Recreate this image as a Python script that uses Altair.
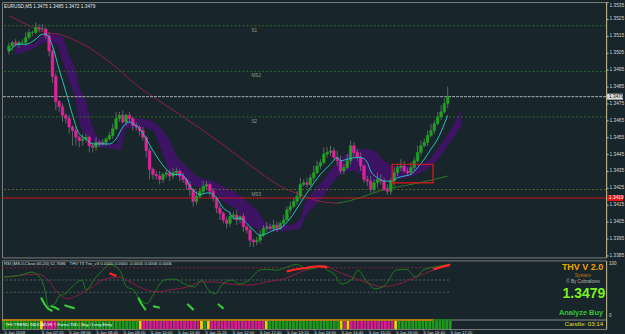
import altair as alt
import pandas as pd

# ---------------- data ----------------
start_time = "2009-01-06 06:25"          # first M5 bar
bar_minutes = 5
first_open = 1.3506
close = [1.3509, 1.3511, 1.3510, 1.3511, 1.3511, 1.3514, 1.3517, 1.3517, 1.3520, 1.3519,
         1.3519, 1.3515, 1.3506, 1.3491, 1.3476, 1.3473, 1.3468, 1.3466, 1.3461, 1.3459,
         1.3455, 1.3453, 1.3454, 1.3455, 1.3450, 1.3449, 1.3452, 1.3451, 1.3452, 1.3454,
         1.3456, 1.3460, 1.3466, 1.3468, 1.3464, 1.3468, 1.3466, 1.3462, 1.3461, 1.3459,
         1.3455, 1.3447, 1.3436, 1.3433, 1.3432, 1.3430, 1.3433, 1.3434, 1.3432, 1.3434,
         1.3435, 1.3432, 1.3430, 1.3427, 1.3424, 1.3417, 1.3420, 1.3423, 1.3426, 1.3427,
         1.3423, 1.3419, 1.3413, 1.3410, 1.3406, 1.3404, 1.3408, 1.3409, 1.3406, 1.3408,
         1.3402, 1.3400, 1.3394, 1.3393, 1.3394, 1.3397, 1.3401, 1.3402, 1.3401, 1.3403,
         1.3401, 1.3404, 1.3406, 1.3412, 1.3414, 1.3417, 1.3420, 1.3427, 1.3428, 1.3427,
         1.3431, 1.3434, 1.3438, 1.3440, 1.3445, 1.3446, 1.3447, 1.3443, 1.3441, 1.3435,
         1.3437, 1.3441, 1.3450, 1.3446, 1.3443, 1.3438, 1.3430, 1.3429, 1.3424, 1.3428,
         1.3430, 1.3429, 1.3424, 1.3423, 1.3429, 1.3434, 1.3437, 1.3438, 1.3435, 1.3434,
         1.3437, 1.3441, 1.3446, 1.3450, 1.3452, 1.3456, 1.3459, 1.3463, 1.3467, 1.3470,
         1.3475, 1.3479]
wick_up_pips = [2, 1, 2, 1, 2, 3, 2, 1, 3, 2, 3, 1, 2, 1, 2, 1, 2, 1, 2, 1,
                2, 1, 3, 2, 1, 2, 3, 1, 2, 1, 2, 3, 4, 2, 3, 1, 2, 1, 2, 1,
                2, 1, 2, 1, 2, 3, 1, 2, 2, 3, 2, 1, 2, 1, 2, 1, 3, 2, 3, 2,
                1, 2, 1, 2, 1, 2, 3, 2, 3, 1, 2, 1, 2, 1, 2, 3, 2, 3, 2, 3,
                2, 1, 3, 2, 3, 2, 3, 4, 2, 3, 2, 4, 3, 2, 4, 3, 3, 2, 4, 3,
                2, 4, 3, 2, 2, 3, 1, 2, 3, 2, 4, 3, 2, 3, 2, 3, 2, 4, 3, 2,
                3, 2, 4, 3, 2, 3, 4, 2, 3, 4, 3, 6]
wick_dn_pips = [2, 3, 1, 2, 1, 2, 1, 2, 1, 2, 1, 2, 3, 4, 5, 3, 4, 3, 4, 9,
                5, 4, 3, 2, 4, 3, 2, 2, 1, 2, 1, 2, 1, 2, 1, 2, 2, 3, 2, 3,
                2, 4, 6, 3, 2, 3, 2, 2, 3, 2, 2, 3, 2, 3, 4, 3, 2, 1, 2, 2,
                3, 2, 3, 4, 2, 3, 2, 2, 3, 2, 3, 2, 4, 3, 2, 2, 1, 2, 1, 2,
                2, 1, 2, 1, 2, 1, 2, 2, 1, 2, 1, 2, 1, 2, 1, 2, 2, 1, 3, 2,
                2, 1, 2, 3, 2, 3, 2, 3, 2, 2, 3, 2, 1, 2, 2, 3, 2, 2, 1, 2,
                1, 2, 1, 2, 1, 2, 1, 2, 1, 2, 1, 3]

price_ticks = [1.3535, 1.3525, 1.3515, 1.3505, 1.3495, 1.3485, 1.3475, 1.3465,
               1.3455, 1.3445, 1.3435, 1.3425, 1.3415, 1.3405, 1.3395, 1.3385]
time_tick_bars = [0, 11, 19, 27, 35, 43, 51, 59, 67, 75, 83, 91, 99, 107, 115, 123, 131]
first_time_label = "6 Jan 2009"

pivot_names = ["S1", "MS2", "S2", "MS3"]
pivot_prices = [1.3521, 1.3494, 1.3467, 1.3424]
pivot_colors = ["#2f6a2f", "#2f6a2f", "#2f6a2f", "#5f6a2a"]
bid_price = 1.3479
red_line_price = 1.3419

cyan_bars = [0, 3, 5, 8, 10, 11, 13, 15, 17, 19, 21, 23, 25, 28, 30, 32, 34, 36, 37, 39,
             41, 43, 45, 47, 49, 51, 53, 54, 56, 57, 59, 60, 62, 64, 66, 67, 69, 71, 73, 75,
             77, 79, 81, 84, 87, 90, 93, 96, 98, 99, 101, 104, 105, 107, 108, 110, 112, 114, 116, 118,
             120, 122, 124, 126, 128, 130, 131]
cyan_prices = [1.3506, 1.3510, 1.3510, 1.3513, 1.3516, 1.3516, 1.3509, 1.3495, 1.3482, 1.3468,
               1.3457, 1.3454, 1.3451, 1.3451, 1.3451, 1.3454, 1.3461, 1.3464, 1.3463, 1.3460,
               1.3454, 1.3447, 1.3441, 1.3436, 1.3433, 1.3433, 1.3430, 1.3426, 1.3422, 1.3421,
               1.3422, 1.3422, 1.3419, 1.3413, 1.3410, 1.3407, 1.3407, 1.3404, 1.3400, 1.3397,
               1.3398, 1.3400, 1.3401, 1.3407, 1.3416, 1.3425, 1.3433, 1.3439, 1.3443, 1.3441,
               1.3442, 1.3443, 1.3443, 1.3440, 1.3435, 1.3431, 1.3429, 1.3429, 1.3431, 1.3432,
               1.3433, 1.3437, 1.3442, 1.3448, 1.3454, 1.3463, 1.3468]

slow_bars = [0, 5, 11, 15, 19, 23, 27, 31, 34, 38, 46, 58, 69, 75, 81, 87, 93, 98,
             101, 106, 112, 120, 127, 131]
slow_prices = [1.3527, 1.3522, 1.3517, 1.3516, 1.3513, 1.3509, 1.3504, 1.3498, 1.3493, 1.3486,
               1.3475, 1.3459, 1.3443, 1.3434, 1.3426, 1.3421, 1.3417, 1.3416,
               1.3417, 1.3420, 1.3424, 1.3427, 1.3430, 1.3432]
slow_part = ["down"] * 18 + ["up"] * 6

band_bars = [2, 7, 11, 14, 16, 18, 20, 21, 23, 25, 27, 32, 33, 35, 39, 43, 45, 48, 50, 53,
             56, 61, 64, 68, 71, 74, 77, 80, 84, 87, 88, 91, 94, 97, 100, 103, 106, 109, 112, 115,
             119, 123, 126, 129, 132, 135]
band_top = [1.3509, 1.3510, 1.3516, 1.3516, 1.3514, 1.3503, 1.3494, 1.3485, 1.3476, 1.3461,
            1.3454, 1.3451, 1.3457, 1.3465, 1.3466, 1.3464, 1.3461, 1.3453, 1.3444, 1.3438,
            1.3432, 1.3429, 1.3426, 1.3422, 1.3417, 1.3412, 1.3404, 1.3403, 1.3403, 1.3407,
            1.3414, 1.3423, 1.3430, 1.3438, 1.3444, 1.3447, 1.3448, 1.3447, 1.3441, 1.3438,
            1.3438, 1.3439, 1.3443, 1.3451, 1.3460, 1.3471]
band_bot = [1.3504, 1.3507, 1.3511, 1.3510, 1.3500, 1.3488, 1.3476, 1.3464, 1.3456, 1.3453,
            1.3449, 1.3448, 1.3447, 1.3460, 1.3461, 1.3459, 1.3450, 1.3435, 1.3432, 1.3428,
            1.3426, 1.3423, 1.3417, 1.3412, 1.3404, 1.3401, 1.3400, 1.3399, 1.3400, 1.3401,
            1.3406, 1.3414, 1.3420, 1.3429, 1.3434, 1.3435, 1.3432, 1.3429, 1.3429, 1.3430,
            1.3431, 1.3434, 1.3438, 1.3444, 1.3453, 1.3461]

box_bars = [114.4, 126.6]
box_prices = [1.3439, 1.3428]

rsi_bars = [0, 5, 8, 10, 12, 13, 15, 16, 18, 20, 23, 24, 27, 29, 31, 34, 36, 38, 40, 42,
            44, 47, 50, 53, 56, 58, 60, 62, 64, 67, 69, 72, 75, 77, 80, 83, 86, 89, 92, 93,
            95, 97, 99, 102, 104, 106, 109, 112, 115, 118, 121, 123, 126, 129, 131]
rsi_vals = [42.4, 44.0, 46.4, 44.0, 32.0, 18.4, 20.8, 26.4, 28.8, 34.4, 40.0, 32.0, 42.4, 48.0,
            52.8, 48.0, 34.4, 32.0, 24.0, 20.8, 28.8, 40.0, 40.8, 36.8, 34.4, 40.0, 32.0, 28.8,
            36.0, 40.0, 36.8, 40.0, 48.0, 48.8, 48.0, 50.4, 52.8, 48.8, 50.4, 52.0, 48.0, 44.8,
            36.8, 40.0, 48.0, 40.8, 32.8, 36.0, 48.0, 48.8, 42.4, 48.0, 50.4, 52.0, 52.8]
rsi_ma_bars = [0, 5, 10, 13, 16, 19, 22, 26, 29, 34, 37, 41, 45, 49, 54, 58, 62, 66, 69, 73,
               77, 82, 87, 91, 94, 97, 102, 106, 111, 116, 121, 126, 131]
rsi_ma_vals = [42.4, 44.0, 44.8, 40.0, 28.8, 24.8, 28.0, 34.4, 40.0, 42.4, 38.4, 32.8, 30.4,
               32.0, 34.4, 38.4, 38.4, 36.8, 36.0, 36.0, 38.4, 40.8, 46.4, 50.4, 52.0, 48.0,
               42.4, 38.4, 34.4, 36.8, 42.4, 48.0, 52.0]
rsi_levels = [50, 40, 30]
rsi_level_colors = ["#7a2438", "#55625c", "#55625c"]

hot_seg = [1, 1, 2, 2, 2, 2, 2, 3, 3]
hot_bars = [31, 33, 83, 86, 89, 92, 95, 126, 131]
hot_vals = [45.6, 43.2, 47.0, 48.8, 50.0, 51.2, 50.4, 48.8, 52.6]

sig_seg = [1, 1, 1, 1, 2, 2, 2, 3, 3, 4, 4, 4, 5, 5, 6, 6, 7, 7]
sig_bars = [11, 12, 13, 14, 14, 15, 16, 18, 20.5, 39.5, 40.5, 41.5, 44, 45.5, 54, 55.5, 63, 64.3]
sig_vals = [25, 20, 16.5, 15, 18.5, 17.5, 16, 19.2, 17, 25, 20, 16, 18.5, 17.5, 20, 16, 20, 17]

strip_starts = [0, 11, 12, 16, 40, 41, 58, 59, 60, 61, 77, 78, 99, 100, 101, 102, 115, 116]
strip_codes = ["G", "Y", "P", "G", "Y", "P", "Y", "G", "Y", "P", "Y", "G", "Y", "P", "Y", "P", "Y", "G"]
strip_palette = {"G": "#1d9a1d", "Y": "#f2cf00", "P": "#d61c8e"}
strip_line_switch = 126

main_title = "EURUSD,M5  1.3475 1.3485 1.3472 1.3479"
rsi_title = "RSI (MS,0,Close,60,20) 52.7686"
trix_title = "THV T3 Trix_v3  0.0005 0.0000 -0.0005 0.0006 0.0006"
strip_text = "THV TREND INDICATOR  © Forex-TSD  |  Buy / Long Entry"
info_texts = ["THV V 2.0", "System", "© By Cobraforex", "1.3479", "Analyze Buy", "Candle: 03:14"]
rsi_axis_labels = ["100", "0"]

# ---------------- helpers ----------------
BG = "#18252a"
GREEN = "#1fa21f"
PINK = "#e0239a"
FONT = "Liberation Sans"
W, H_MAIN, H_RSI = 608, 257, 69

t0 = int(pd.Timestamp(start_time, tz="UTC").timestamp() * 1000)


def tm(b):
    return t0 + b * bar_minutes * 60000


n = len(close)
opens = [first_open] + close[:-1]
highs = [max(o, c) + u * 0.0001 for o, c, u in zip(opens, close, wick_up_pips)]
lows = [min(o, c) - d * 0.0001 for o, c, d in zip(opens, close, wick_dn_pips)]
dirs = ["up" if c >= o else "down" for o, c in zip(opens, close)]
bars = pd.DataFrame({"t": [tm(i) for i in range(n)], "open": opens, "close": close,
                     "high": highs, "low": lows, "dir": dirs})

xscale = alt.Scale(type="utc", domain=[tm(-0.5835), tm(176.8)], nice=False)
yscale = alt.Scale(domain=[1.3535 - H_MAIN / 17000, 1.3535], nice=False, zero=False)
yaxis = alt.Axis(orient="right", values=price_ticks, format=".4f", title=None, grid=False,
                 labelFontSize=4.8, labelColor="#d6d6d6", labelFont=FONT, labelPadding=1,
                 tickSize=2, tickColor="#b9b58e", domainColor="#b9b58e", labelFlush=True,
                 labelOverlap=False)
X = alt.X("t:T", scale=xscale, axis=None)


def Yq(field):
    return alt.Y(field, scale=yscale, axis=yaxis)


band = pd.DataFrame({"t": [tm(b) for b in band_bars], "top": band_top, "bot": band_bot})
band_layer = alt.Chart(band).mark_area(color="#3f1266", opacity=0.95, interpolate="monotone", clip=True).encode(
    x=X, y=Yq("top:Q"), y2="bot:Q")

slow = pd.DataFrame({"t": [tm(b) for b in slow_bars], "p": slow_prices, "part": slow_part})
slow_down = alt.Chart(slow[slow.part == "down"]).mark_line(color="#8f1f44", strokeWidth=1, interpolate="monotone", clip=True).encode(x=X, y=Yq("p:Q"))
slow_up = alt.Chart(slow[(slow.part == "up") | (slow.t == tm(98))]).mark_line(color="#2a7a24", strokeWidth=1, interpolate="monotone", clip=True).encode(x=X, y=Yq("p:Q"))

piv = pd.DataFrame({"name": pivot_names, "p": pivot_prices, "pc": pivot_colors})
piv_lines = alt.Chart(piv).mark_rule(strokeDash=[2, 2], strokeWidth=1).encode(
    y=Yq("p:Q"), color=alt.Color("pc:N", scale=None, legend=None))
piv_text = alt.Chart(piv).mark_text(align="left", baseline="top", dy=2, fontSize=4.8, font=FONT, color="#8c9a8c").encode(
    x=alt.value(251), y=Yq("p:Q"), text="name:N")

lv = pd.DataFrame({"p": [bid_price, red_line_price], "lc": ["#a9b0b6", "#c81818"],
                   "bg": ["#d9d9d9", "#e01414"], "fg": ["#111111", "#ffffff"]})
bid_line = alt.Chart(lv.iloc[[0]]).mark_rule(strokeDash=[3, 1], strokeWidth=1).encode(
    y=Yq("p:Q"), color=alt.Color("lc:N", scale=None, legend=None))
red_line = alt.Chart(lv.iloc[[1]]).mark_rule(strokeWidth=1).encode(
    y=Yq("p:Q"), color=alt.Color("lc:N", scale=None, legend=None))
lv_bg = alt.Chart(lv).mark_rect(yOffset=-3, y2Offset=3).encode(
    x=alt.value(609), x2=alt.value(625), y=Yq("p:Q"), y2="p:Q", color=alt.Color("bg:N", scale=None, legend=None))
lv_txt = alt.Chart(lv).mark_text(align="left", baseline="middle", fontSize=4.8, font=FONT).encode(
    x=alt.value(611), y=Yq("p:Q"), text=alt.Text("p:Q", format=".4f"), color=alt.Color("fg:N", scale=None, legend=None))

wicks = alt.Chart(bars).mark_rule(color="#5d666a", strokeWidth=1, clip=True).encode(x=X, y=Yq("low:Q"), y2="high:Q")
cscale = alt.Scale(domain=["up", "down"], range=[GREEN, PINK])
bodies = alt.Chart(bars).mark_bar(size=2.7, strokeWidth=0.5, clip=True).encode(
    x=X, y=Yq("open:Q"), y2="close:Q",
    color=alt.Color("dir:N", scale=cscale, legend=None),
    stroke=alt.Stroke("dir:N", scale=cscale, legend=None))

cyan = pd.DataFrame({"t": [tm(b) for b in cyan_bars], "p": cyan_prices})
cyan_line = alt.Chart(cyan).mark_line(color="#27c4c4", strokeWidth=1, interpolate="monotone", clip=True).encode(x=X, y=Yq("p:Q"))

box = pd.DataFrame({"t1": [tm(box_bars[0])], "t2": [tm(box_bars[1])], "p1": [box_prices[0]], "p2": [box_prices[1]]})
box_layer = alt.Chart(box).mark_rect(fill=None, stroke="#e01818", strokeWidth=1.2).encode(
    x=alt.X("t1:T", scale=xscale, axis=None), x2="t2:T", y=Yq("p1:Q"), y2="p2:Q")

title_layer = alt.Chart(pd.DataFrame({"s": [main_title]})).mark_text(
    align="left", baseline="top", fontSize=4.8, font=FONT, color="#e8e8e8").encode(
    x=alt.value(2), y=alt.value(2), text="s:N")

main = alt.layer(band_layer, slow_down, slow_up, piv_lines, piv_text, bid_line, red_line,
                 wicks, bodies, cyan_line, box_layer, lv_bg, lv_txt, title_layer).resolve_scale(
    color="independent", stroke="independent").properties(width=W, height=H_MAIN)

# ---------------- RSI / THV sub-window ----------------
rscale = alt.Scale(domain=[0, 56], nice=False, zero=False)
raxis = alt.Axis(orient="right", values=[], title=None, grid=False, domainColor="#b9b58e", ticks=False, labels=False)
xaxis = alt.Axis(values=[tm(b) for b in time_tick_bars], title=None, grid=False, labelAlign="left",
                 labelExpr="utcFormat(datum.value,'%H:%M')=='06:25' ? '" + first_time_label + "' : utcFormat(datum.value,'%-d %b %H:%M')",
                 labelFontSize=4.2, labelFont=FONT, labelColor="#d6d6d6", tickSize=1, tickColor="#9a9a9a",
                 labelPadding=1, domain=False, labelFlush=False, labelOverlap=False)
XR = alt.X("t:T", scale=xscale, axis=xaxis)


def R(field):
    return alt.Y(field, scale=rscale, axis=raxis)


lev = pd.DataFrame({"v": rsi_levels, "lc": rsi_level_colors, "t1": [tm(-0.6)] * 3, "t2": [tm(131)] * 3})
lev_layer = alt.Chart(lev).mark_rule(strokeDash=[2, 2], strokeWidth=1).encode(
    x=alt.X("t1:T", scale=xscale, axis=xaxis), x2="t2:T", y=R("v:Q"), color=alt.Color("lc:N", scale=None, legend=None))

rsi_df = pd.DataFrame({"t": [tm(b) for b in rsi_bars], "v": rsi_vals})
rsi_line = alt.Chart(rsi_df).mark_line(color="#1f7a1f", strokeWidth=1, interpolate="monotone").encode(x=XR, y=R("v:Q"))
ma_df = pd.DataFrame({"t": [tm(b) for b in rsi_ma_bars], "v": rsi_ma_vals})
ma_line = alt.Chart(ma_df).mark_line(color="#8a1c40", strokeWidth=1, interpolate="monotone").encode(x=XR, y=R("v:Q"))
hot_df = pd.DataFrame({"t": [tm(b) for b in hot_bars], "v": hot_vals, "s": hot_seg})
hot_line = alt.Chart(hot_df).mark_line(color="#ff2626", strokeWidth=2.2, interpolate="monotone").encode(
    x=XR, y=R("v:Q"), detail="s:N")
sig_df = pd.DataFrame({"t": [tm(b) for b in sig_bars], "v": sig_vals, "s": sig_seg})
sig_line = alt.Chart(sig_df).mark_line(color="#35c935", strokeWidth=2.2, interpolate="monotone", strokeCap="round").encode(
    x=XR, y=R("v:Q"), detail="s:N")

# strip: expand segments to bars
codes = []
for k, s in enumerate(strip_starts):
    e = strip_starts[k + 1] if k + 1 < len(strip_starts) else n
    codes += [strip_codes[k]] * (e - s)
strip = pd.DataFrame({"t1": [tm(i - 0.42) for i in range(n)], "t2": [tm(i + 0.42) for i in range(n)],
                      "sc": [strip_palette[c] for c in codes]})
strip_layer = alt.Chart(strip).mark_rect().encode(
    x=alt.X("t1:T", scale=xscale, axis=xaxis), x2="t2:T", y=alt.value(61), y2=alt.value(69),
    color=alt.Color("sc:N", scale=None, legend=None))
sline = pd.DataFrame({"t1": [tm(-0.6), tm(strip_line_switch)], "t2": [tm(strip_line_switch), tm(n - 0.5)],
                      "slc": ["#e69a00", "#22a022"]})
sline_layer = alt.Chart(sline).mark_rule(strokeWidth=1.5).encode(
    x=alt.X("t1:T", scale=xscale, axis=xaxis), x2="t2:T", y=alt.value(60), color=alt.Color("slc:N", scale=None, legend=None))
frame_layer = alt.Chart(pd.DataFrame({"t1": [tm(n - 0.5)], "t2": [tm(176.8)]})).mark_rule(color="#8a8a8a", strokeWidth=1).encode(
    x=alt.X("t1:T", scale=xscale, axis=xaxis), x2="t2:T", y=alt.value(60))


def txt(s, x, y, size, color, align="left", weight="normal"):
    return alt.Chart(pd.DataFrame({"s": [s]})).mark_text(
        align=align, baseline="middle", fontSize=size, font=FONT, color=color, fontWeight=weight).encode(
        x=alt.value(x), y=alt.value(y), text="s:N")


texts = [
    txt(rsi_title, 2, 4, 4.3, "#dcdcdc"),
    txt(trix_title, 68, 4, 4.3, "#dcdcdc"),
    txt(strip_text, 3, 65, 4.2, "#ffffff"),
    txt(info_texts[0], 605, 7, 9, "#f2a100", "right", "bold"),
    txt(info_texts[1], 593, 14.5, 5, "#c87800", "right"),
    txt(info_texts[2], 602, 22, 4.6, "#b5b5b5", "right"),
    txt(info_texts[3], 607, 34, 14, "#7cf21e", "right", "bold"),
    txt(info_texts[4], 605, 53, 7.5, "#33c233", "right", "bold"),
    txt(info_texts[5], 605, 64.5, 6.2, "#e3e02a", "right"),
    txt(rsi_axis_labels[0], 611, 4, 4.5, "#d6d6d6"),
    txt(rsi_axis_labels[1], 611, 56, 4.5, "#d6d6d6"),
]

rsi = alt.layer(lev_layer, ma_line, rsi_line, hot_line, sig_line, strip_layer, sline_layer, frame_layer,
                *texts).resolve_scale(color="independent").properties(width=W, height=H_RSI)

chart = alt.vconcat(main, rsi, spacing=1).configure(
    background=BG, padding=0).configure_view(fill=BG, stroke="#7d7d7d", strokeWidth=1)

chart.save("out.html", embed_options={"renderer": "svg", "actions": False})
